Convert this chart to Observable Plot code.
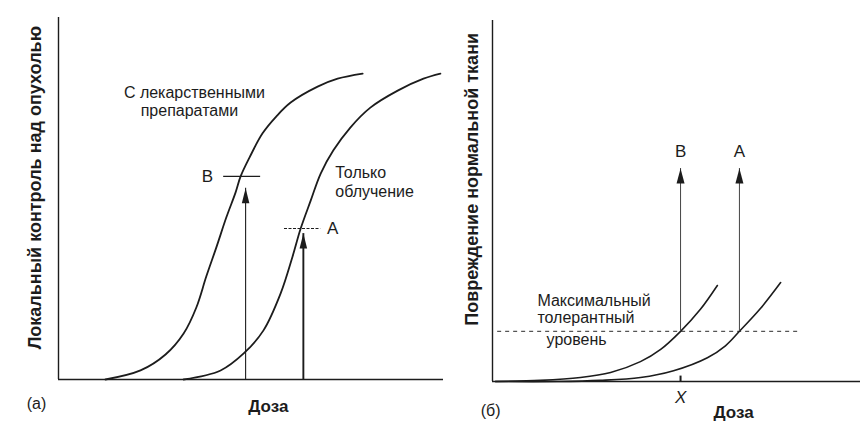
<!DOCTYPE html>
<html><head><meta charset="utf-8">
<script src="https://cdn.jsdelivr.net/npm/d3@7"></script>
<script src="https://cdn.jsdelivr.net/npm/@observablehq/plot@0.6"></script>
<style>
body{margin:0;background:#fff;}
#wrap{position:relative;width:860px;height:423px;overflow:hidden;background:#fff;}
#wrap svg{position:absolute;top:0;background:transparent;}
</style></head><body><div id="wrap"></div>
<script>
const FONT = "'Liberation Sans', Arial, Helvetica, sans-serif";
const INK = "#1c1c1c";

// ---------- Panel (a): tumour control vs dose ----------
const drugDose    = [12.2,21.3,27.8,32.5,35.8,38.4,41.0,43.6,46.0,47.3,49.6,53.0,56.6,60.3,67.3,72.5,79.0];
const drugControl = [0,2.5,6.9,12.7,19.9,28.5,36.5,44.8,51.7,56.1,61.3,68.0,72.7,76.5,80.9,83.1,84.5];
const radDose     = [32.5,42.1,48.1,53.2,57.7,60.8,62.9,65.5,68.1,71.4,75.8,81.0,88.1,94.8,99.2];
const radControl  = [0,2.5,7.2,13.5,23.8,34.0,41.7,49.4,56.9,63.3,69.6,75.1,79.8,83.1,84.5];

const arrowNames  = ["B","A"];
const arrowDose   = [48.6, 63.6];
const arrowTip    = [52.8, 40.3];
const levelValue  = [56.1, 41.7];
const levelFrom   = [42.9, 58.7];
const levelTo     = [52.5, 68.1];
const levelLabelX = [38.7, 71.2];

// ---------- Panel (б): normal tissue damage vs dose ----------
const bDose   = [0.8,13.0,23.9,32.1,40.2,45.7,51.1,56.5,61.1];
const bDamage = [0,0.3,1.1,2.5,5.5,8.9,13.9,20.0,26.6];
const aDose   = [0.8,17.7,29.3,40.2,49.2,58.4,63.3,67.1,72.8,78.3];
const aDamage = [0,0,0.3,1.1,3.0,6.6,9.9,13.9,20.2,27.4];
const toleranceLevel = 13.9;
const toleranceSpan  = [1.4, 83.2];
const damageArrowDose = [51.1, 67.1];
const damageArrowTip  = [59.0, 59.0];
const xMarkDose = 51.1;

const zip = (xs, ys) => xs.map((x, i) => ({x, y: ys[i]}));
const head = (w, h) => ({draw(ctx){ ctx.moveTo(0,0); ctx.lineTo(w,h); ctx.lineTo(-w,h); ctx.closePath(); }});

const drugData = zip(drugDose, drugControl);
const radData  = zip(radDose, radControl);
const arrows = arrowNames.map((n,i)=>({n, x: arrowDose[i], tip: arrowTip[i], lv: levelValue[i], x1: levelFrom[i], x2: levelTo[i], lx: levelLabelX[i]}));

const style = {fontFamily: FONT, background: "transparent", color: INK, overflow: "visible"};
const LBL = 16;

const left = Plot.plot({
  width: 445, height: 423,
  marginLeft: 58, marginRight: 2, marginTop: 17, marginBottom: 44,
  x: {domain: [0,100], axis: null},
  y: {domain: [0,100], axis: null},
  style,
  marks: [
    Plot.ruleX([0], {stroke: INK, strokeWidth: 1.4}),
    Plot.ruleY([0], {stroke: INK, strokeWidth: 1.4}),
    Plot.line(drugData, {x: "x", y: "y", curve: "catmull-rom", stroke: INK, strokeWidth: 1.8}),
    Plot.line(radData,  {x: "x", y: "y", curve: "catmull-rom", stroke: INK, strokeWidth: 1.8}),
    Plot.ruleX([arrows[0]], {x: "x", y1: 0, y2: "tip", stroke: INK, strokeWidth: 1.1}),
    Plot.ruleX([arrows[1]], {x: "x", y1: 0, y2: "tip", stroke: INK, strokeWidth: 1.9}),
    Plot.dot(arrows, {x: "x", y: "tip", symbol: head(3.8, 15), fill: INK, stroke: "none", r: 5}),
    Plot.ruleY([arrows[0]], {y: "lv", x1: "x1", x2: "x2", stroke: INK, strokeWidth: 1.1}),
    Plot.ruleY([arrows[1]], {y: "lv", x1: "x1", x2: "x2", stroke: INK, strokeWidth: 1.1, strokeDasharray: "3,1.5"}),
    Plot.text(arrows, {x: "lx", y: "lv", text: "n", fontSize: 17, fill: INK}),
    Plot.text(["С лекарственными"], {x: 35.3, y: 79.3, fontSize: LBL, fill: INK}),
    Plot.text(["препаратами"], {x: 34.0, y: 74.3, fontSize: LBL, fill: INK}),
    Plot.text(["Только"], {x: 71.9, y: 57.2, fontSize: LBL, textAnchor: "start", fill: INK}),
    Plot.text(["облучение"], {x: 71.9, y: 51.7, fontSize: LBL, textAnchor: "start", fill: INK}),
    Plot.text(["Локальный контроль над опухолью"], {x: -6, y: 53, rotate: -90, fontSize: 18, fontWeight: "bold", fill: INK}),
    Plot.text(["Доза"], {x: 54.5, y: -7.4, fontSize: 17, fontWeight: "bold", fill: INK}),
    Plot.text(["(a)"], {x: -5.7, y: -6.6, fontSize: 16, fill: INK})
  ]
});

const right = Plot.plot({
  width: 430, height: 423,
  marginLeft: 62, marginRight: 0, marginTop: 20, marginBottom: 42,
  x: {domain: [0,100], axis: null},
  y: {domain: [0,100], axis: null},
  style,
  marks: [
    Plot.ruleX([0], {stroke: INK, strokeWidth: 1.4}),
    Plot.ruleY([0], {stroke: INK, strokeWidth: 1.4}),
    Plot.ruleY([toleranceLevel], {x1: toleranceSpan[0], x2: toleranceSpan[1], stroke: "#555", strokeWidth: 1.2, strokeDasharray: "4,4"}),
    Plot.line(zip(bDose, bDamage), {x: "x", y: "y", curve: "catmull-rom", stroke: INK, strokeWidth: 1.6}),
    Plot.line(zip(aDose, aDamage), {x: "x", y: "y", curve: "catmull-rom", stroke: INK, strokeWidth: 1.6}),
    Plot.ruleX(damageArrowDose, {x: d => d, y1: toleranceLevel, y2: (d,i) => damageArrowTip[i], stroke: "#444", strokeWidth: 1}),
    Plot.dot(damageArrowDose, {x: d => d, y: (d,i) => damageArrowTip[i], symbol: head(4, 15), fill: INK, stroke: "none", r: 5}),
    Plot.text(arrowNames, {x: (d,i) => damageArrowDose[i], y: 63.6, text: d => d, fontSize: 17, fill: INK}),
    Plot.ruleX([xMarkDose], {y1: 0, y2: 1.5, stroke: INK, strokeWidth: 2}),
    Plot.text(["X"], {x: xMarkDose, y: -4.4, fontSize: 17, fontStyle: "italic", fill: INK}),
    Plot.text(["Максимальный"], {x: 12.2, y: 22.4, fontSize: LBL, textAnchor: "start", fill: INK}),
    Plot.text(["толерантный"], {x: 12.2, y: 17.5, fontSize: LBL, textAnchor: "start", fill: INK}),
    Plot.text(["уровень"], {x: 14.7, y: 11.4, fontSize: LBL, textAnchor: "start", fill: INK}),
    Plot.text(["Повреждение нормальной ткани"], {x: -5.4, y: 56, rotate: -90, fontSize: 18, fontWeight: "bold", fill: INK}),
    Plot.text(["Доза"], {x: 65.5, y: -8.6, fontSize: 17, fontWeight: "bold", fill: INK}),
    Plot.text(["(б)"], {x: -0.5, y: -8.0, fontSize: 16, fill: INK})
  ]
});

left.style.left = "0px";
right.style.left = "430px";
const wrap = document.getElementById("wrap");
wrap.appendChild(left);
wrap.appendChild(right);
</script>
</body></html>
